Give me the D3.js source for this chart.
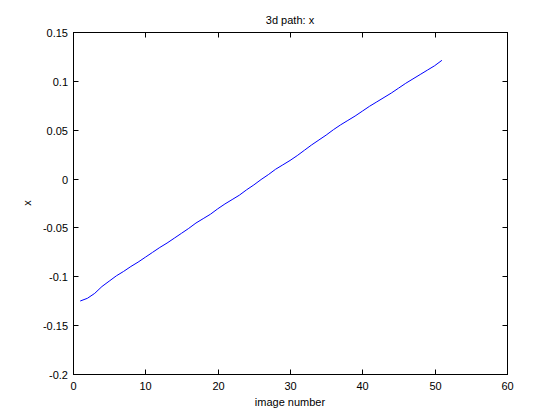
<!DOCTYPE html>
<html>
<head>
<meta charset="utf-8">
<script src="https://cdn.jsdelivr.net/npm/d3@7"></script>
<style>
  body { margin: 0; background: #fff; }
  text { font-family: "Liberation Sans", Arial, sans-serif; font-size: 11px; fill: #000; }
</style>
</head>
<body>
<script>
// image numbers 1..51 and the x position
var imageNumbers = d3.range(1, 52);
var xValues = [
  -0.1253, -0.1225, -0.1175, -0.1105, -0.1050, -0.0995, -0.0950, -0.0900, -0.0855, -0.0805,
  -0.0755, -0.0705, -0.0660, -0.0610, -0.0560, -0.0510, -0.0455, -0.0410, -0.0365, -0.0310,
  -0.0260, -0.0215, -0.0170, -0.0115, -0.0065, -0.0010, 0.0040, 0.0095, 0.0140, 0.0185,
  0.0235, 0.0290, 0.0345, 0.0395, 0.0445, 0.0500, 0.0550, 0.0595, 0.0640, 0.0690,
  0.0740, 0.0785, 0.0830, 0.0875, 0.0925, 0.0975, 0.1020, 0.1065, 0.1110, 0.1155,
  0.1210
];
var xTicks = [0, 10, 20, 30, 40, 50, 60];
var yTicks = [-0.2, -0.15, -0.1, -0.05, 0, 0.05, 0.1, 0.15];
var yTickLabels = ["-0.2", "-0.15", "-0.1", "-0.05", "0", "0.05", "0.1", "0.15"];

var w = 560, h = 420;
// note: "top" is taken by window.top, so plot edges get their own names
var plotL = 73, plotR = 507, plotT = 32, plotB = 374;

var svg = d3.select("body").append("svg")
    .attr("width", w)
    .attr("height", h);

var xScale = d3.scaleLinear().domain([0, 60]).range([plotL, plotR]);
var yScale = d3.scaleLinear().domain([-0.2, 0.15]).range([plotB, plotT]);

// box
svg.append("rect")
    .attr("x", plotL + 0.5)
    .attr("y", plotT + 0.5)
    .attr("width", plotR - plotL)
    .attr("height", plotB - plotT)
    .attr("fill", "none")
    .attr("stroke", "#000")
    .attr("stroke-width", 1);

// ticks, pointing inward, on all four sides
var tickLen = 5;
xTicks.forEach(function(t){
    var x = Math.round(xScale(t)) + 0.5;
    svg.append("line").attr("x1", x).attr("x2", x)
        .attr("y1", plotB + 0.5).attr("y2", plotB + 0.5 - tickLen).attr("stroke", "#000");
    svg.append("line").attr("x1", x).attr("x2", x)
        .attr("y1", plotT + 0.5).attr("y2", plotT + 0.5 + tickLen).attr("stroke", "#000");
    svg.append("text")
        .attr("x", x)
        .attr("y", plotB + 16)
        .attr("text-anchor", "middle")
        .text(t);
});

yTicks.forEach(function(t, i){
    var y = Math.round(yScale(t)) + 0.5;
    svg.append("line").attr("x1", plotL + 0.5).attr("x2", plotL + 0.5 + tickLen)
        .attr("y1", y).attr("y2", y).attr("stroke", "#000");
    svg.append("line").attr("x1", plotR + 0.5).attr("x2", plotR + 0.5 - tickLen)
        .attr("y1", y).attr("y2", y).attr("stroke", "#000");
    svg.append("text")
        .attr("x", plotL - 5)
        .attr("y", y + 4)
        .attr("text-anchor", "end")
        .text(yTickLabels[i]);
});

// the path
var line = d3.line()
    .x(function(d, i){ return xScale(imageNumbers[i]); })
    .y(function(d){ return yScale(d); });

svg.append("path")
    .datum(xValues)
    .attr("d", line)
    .attr("fill", "none")
    .attr("stroke", "#0000ff")
    .attr("stroke-width", 1);

// labels
svg.append("text")
    .attr("x", (plotL + plotR) / 2)
    .attr("y", 24)
    .attr("text-anchor", "middle")
    .text("3d path: x");

svg.append("text")
    .attr("x", (plotL + plotR) / 2)
    .attr("y", 406)
    .attr("text-anchor", "middle")
    .text("image number");

svg.append("text")
    .attr("transform", "translate(31," + ((plotT + plotB) / 2) + ") rotate(-90)")
    .attr("text-anchor", "middle")
    .text("x");
</script>
</body>
</html>
